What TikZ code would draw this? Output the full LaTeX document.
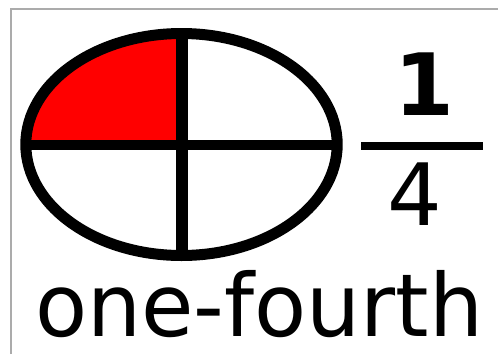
\documentclass[tikz,border=0pt]{standalone}
\usepackage{fontspec}
\setmainfont{DejaVu Sans}
\definecolor{frame}{HTML}{ABABAB}
\definecolor{piered}{HTML}{FF0000}
\begin{document}
\begin{tikzpicture}[x=1pt,y=-1pt,
  outline/.style={draw=black,line width=11pt},
  divider/.style={draw=black,line width=11pt},
  digit/.style={inner sep=0pt,anchor=center}]
\useasboundingbox (0,0) rectangle (498,354);
\fill[white] (0,0) rectangle (498,354);
% frame
\draw[frame,line width=2.5pt] (11,354) -- (11,9) -- (498,9);
% red quadrant
\coordinate (c) at (181.5,144.5);
\fill[piered] (c) -- (25.8,144.5) arc[start angle=180,end angle=270,x radius=155.7,y radius=111] -- cycle;
% ellipse
\draw[outline] (c) ellipse[x radius=155.7,y radius=111];
% dividers
\coordinate (top) at (181.5,33.5);
\coordinate (bot) at (181.5,255.5);
\coordinate (lft) at (25.8,144.5);
\coordinate (rgt) at (337.2,144.5);
\draw[divider,line width=12pt] (top) -- (bot);
\draw[divider,line width=10pt] (lft) -- (rgt);
% fraction
\node[digit] (one) at (424,84) {\fontsize{86}{86}\selectfont\bfseries 1};
\coordinate (barL) at (361,146);
\coordinate (barR) at (483,146);
\draw[line width=8pt] (barL) -- (barR);
\node[digit] (four) at (415,194) {\fontsize{86}{86}\selectfont 4};
% word
\node[inner sep=0pt,anchor=base west,xscale=0.98] (word) at (35,336) {\fontsize{87}{87}\selectfont one-fourth};
\end{tikzpicture}
\end{document}
